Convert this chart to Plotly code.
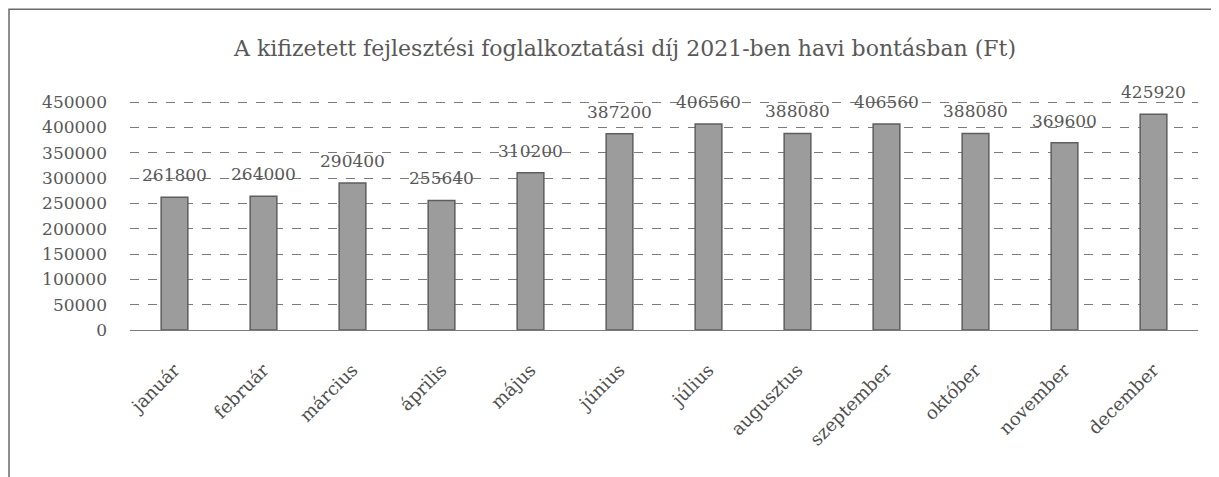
import plotly.graph_objects as go

months = ["január", "február", "március", "április", "május", "június",
          "július", "augusztus", "szeptember", "október", "november", "december"]
values = [261800, 264000, 290400, 255640, 310200, 387200,
          406560, 388080, 406560, 388080, 369600, 425920]
labels = [str(v) for v in values]
title = "A kifizetett fejlesztési foglalkoztatási díj 2021-ben havi bontásban (Ft)"

FONT = "DejaVu Serif"
TXT = "#585858"
fig = go.Figure(go.Bar(
    x=months, y=values,
    marker=dict(color="#9c9c9c", line=dict(color="#5e5e5e", width=1.5)),
    cliponaxis=False, hoverinfo="x+y",
))
for m, v, t in zip(months, values, labels):
    fig.add_annotation(x=m, y=v, text=t, showarrow=False, yanchor="bottom",
                       yshift=10, font=dict(family=FONT, size=17, color=TXT))
fig.update_layout(
    width=1211, height=469,
    margin=dict(l=122, r=21, t=92, b=147),
    paper_bgcolor="white", plot_bgcolor="white",
    bargap=0.7, showlegend=False,
    title=dict(text=title, x=0.5095, xanchor="center", y=0.915, yanchor="middle",
               font=dict(family=FONT, size=22, color=TXT)),
    font=dict(family=FONT, color=TXT),
)
fig.update_yaxes(range=[0, 454000], dtick=50000, tickformat="d",
                 showgrid=True, gridcolor="#7a7a7a", gridwidth=1, griddash="dash",
                 zeroline=True, zerolinecolor="#7a7a7a", zerolinewidth=1,
                 tickfont=dict(family=FONT, size=17, color=TXT), ticks="",
                 ticklabelstandoff=22)
fig.update_xaxes(tickangle=-45, tickfont=dict(family=FONT, size=18, color="#4e4e4e"),
                 showline=False, ticks="", ticklabelstandoff=25)
fig.add_shape(type="rect", xref="paper", yref="paper",
              x0=-0.1133, x1=1.03, y0=-0.75, y1=1.395,
              line=dict(color="#6a6a6a", width=1.5))
fig.write_html("out.html")
